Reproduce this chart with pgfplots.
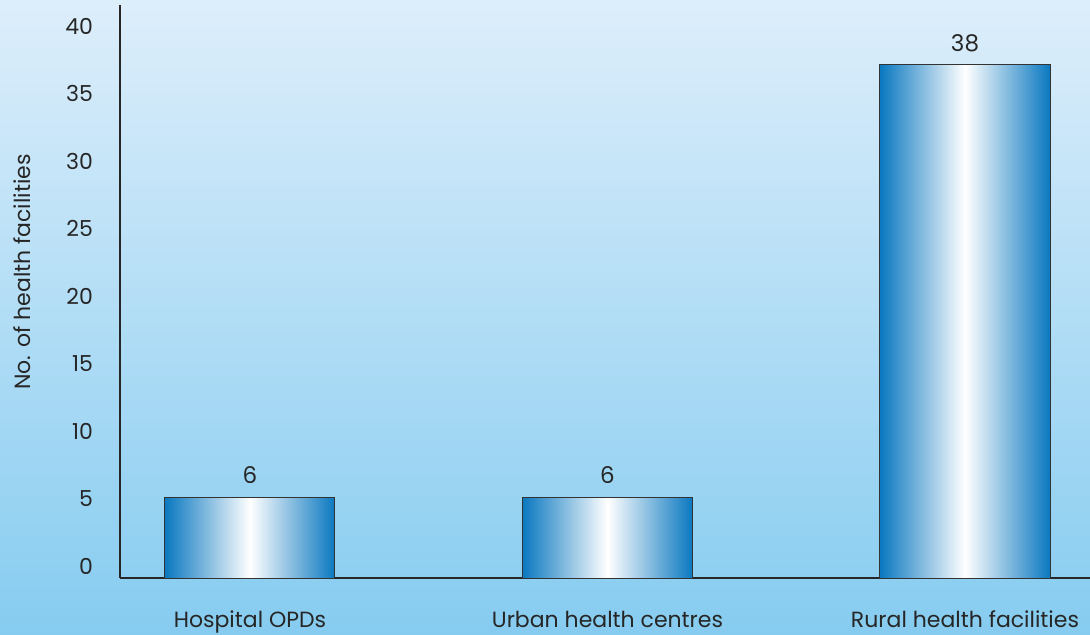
\documentclass[border=0pt]{standalone}
\usepackage{pgfplots}
\pgfplotsset{compat=1.18}
\usepackage{fontspec}
\setmainfont{Poppins}
\definecolor{bgtop}{HTML}{DDEEFB}
\definecolor{bgbot}{HTML}{86CCF0}
\definecolor{bardark}{HTML}{0A78C0}
\definecolor{txt}{HTML}{262626}
\begin{document}
\begin{tikzpicture}
\shade[top color=bgtop, bottom color=bgbot] (-60pt,-28pt) rectangle (485pt,289pt);
\begin{axis}[
  at={(0,0)}, anchor=south west,
  width=485pt, height=286.5pt, scale only axis,
  xmin=-0.3636, xmax=2.3497,
  ymin=0, ymax=42.44,
  axis lines=left,
  axis line style={-, black!85, line width=0.6pt},
  major tick length=0pt,
  xtick={0,1,2},
  xticklabels={Hospital OPDs, Urban health centres, Rural health facilities},
  ytick={0,5,...,40},
  /pgf/number format/assume math mode=true,
  tick label style={font=\fontsize{11}{13}\selectfont, text=txt},
  yticklabel style={anchor=east, xshift=-10pt, yshift=6pt},
  xticklabel style={anchor=base, yshift=-24.5pt},
  ylabel={No. of health facilities},
  ylabel style={at={(axis description cs:-0.101,0.534)}, anchor=center, font=\fontsize{11}{13}\selectfont, text=txt},
  nodes near coords,
  every node near coord/.append style={font=\fontsize{11.5}{13}\selectfont, text=txt, yshift=3pt},
  clip=false,
  mybar/.style={ybar, bar width=85pt, bar shift=0pt, draw=black!80, line width=0.5pt,
    left color=bardark, right color=bardark, middle color=white},
]
\addplot[mybar] coordinates {(0,6)};
\addplot[mybar] coordinates {(1,6)};
\addplot[mybar] coordinates {(2,38)};
\end{axis}
\pgfresetboundingbox
\useasboundingbox (-60pt,-28pt) rectangle (485pt,289pt);
\end{tikzpicture}
\end{document}
